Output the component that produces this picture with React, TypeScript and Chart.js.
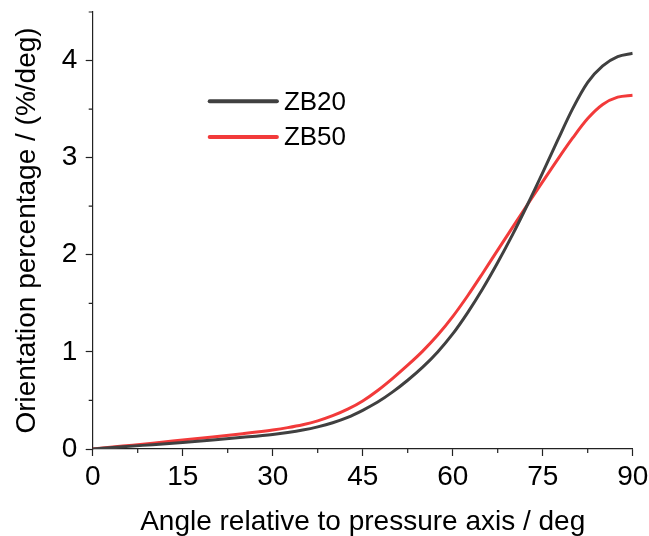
import React, { useEffect, useRef } from "react";
import { Chart, registerables } from "chart.js";

Chart.register(...registerables);

const angles = [0, 5, 10, 15, 20, 25, 30, 32.5, 35, 37.5, 40, 42.5, 45, 47.5, 50, 52.5, 55, 57.5, 60, 62.5, 65, 67.5, 70, 72.5, 75, 77.5, 80, 82.5, 85, 87.5, 90];
const zb20 = [0, 0.022, 0.045, 0.068, 0.093, 0.12, 0.15, 0.17, 0.195, 0.228, 0.27, 0.325, 0.398, 0.483, 0.588, 0.708, 0.843, 1.0, 1.185, 1.405, 1.65, 1.92, 2.21, 2.52, 2.845, 3.18, 3.505, 3.775, 3.945, 4.04, 4.075];
const zb50 = [0, 0.03, 0.06, 0.092, 0.124, 0.158, 0.196, 0.22, 0.25, 0.29, 0.343, 0.41, 0.495, 0.603, 0.728, 0.863, 1.008, 1.173, 1.363, 1.578, 1.81, 2.048, 2.285, 2.52, 2.753, 2.983, 3.203, 3.403, 3.548, 3.623, 3.643];
const seriesNames = ["ZB20", "ZB50"];
const xTicksMajor = [0, 15, 30, 45, 60, 75, 90];
const xMinorTicks = [7.5, 22.5, 37.5, 52.5, 67.5, 82.5];
const yMinorTicks = [0.5, 1.5, 2.5, 3.5, 4.5];
const xTitle = "Angle relative to pressure axis / deg";
const yTitle = "Orientation percentage / (%/deg)";

const FONT = "'Liberation Sans', Arial, sans-serif";
const AXIS_COLOR = "#222";
const colors = ["#404040", "#f23a3a"];

export default function App() {
  const ref = useRef<HTMLCanvasElement | null>(null);

  useEffect(() => {
    document.body.style.margin = "0";
    const canvas = ref.current;
    if (!canvas) return;

    const minorTicksPlugin = {
      id: "minorTicksAndLegend",
      afterDraw(chart: any) {
        const ctx = chart.ctx;
        const xs = chart.scales.x;
        const ys = chart.scales.y;
        const area = chart.chartArea;
        ctx.save();
        ctx.strokeStyle = AXIS_COLOR;
        ctx.lineWidth = 1.2;
        ctx.beginPath();
        xMinorTicks.forEach((v) => {
          const px = xs.getPixelForValue(v);
          ctx.moveTo(px, area.bottom);
          ctx.lineTo(px, area.bottom + 4);
        });
        yMinorTicks.forEach((v) => {
          const py = ys.getPixelForValue(v);
          ctx.moveTo(area.left, py);
          ctx.lineTo(area.left - 4, py);
        });
        ctx.stroke();

        // legend
        const lx0 = xs.getPixelForValue(19.5);
        const lx1 = xs.getPixelForValue(30.7);
        const ly0 = ys.getPixelForValue(3.58);
        const gap = 35.6;
        chart.data.datasets.forEach((ds: any, i: number) => {
          const y = ly0 + i * gap;
          ctx.strokeStyle = ds.borderColor;
          ctx.lineWidth = 4;
          ctx.lineCap = "round";
          ctx.beginPath();
          ctx.moveTo(lx0, y);
          ctx.lineTo(lx1, y);
          ctx.stroke();
          ctx.fillStyle = "#000";
          ctx.font = `26px ${FONT}`;
          ctx.textBaseline = "middle";
          ctx.textAlign = "left";
          ctx.fillText(ds.label, lx1 + 7, y + 1);
        });
        ctx.restore();
      },
    };

    const chart = new Chart(canvas, {
      type: "line",
      data: {
        datasets: [
          {
            label: seriesNames[0],
            data: angles.map((a, i) => ({ x: a, y: zb20[i] })),
            borderColor: colors[0],
            borderWidth: 3,
            pointRadius: 0,
            cubicInterpolationMode: "monotone",
            fill: false,
          },
          {
            label: seriesNames[1],
            data: angles.map((a, i) => ({ x: a, y: zb50[i] })),
            borderColor: colors[1],
            borderWidth: 3,
            pointRadius: 0,
            cubicInterpolationMode: "monotone",
            fill: false,
          },
        ],
      },
      options: {
        animation: false,
        responsive: true,
        maintainAspectRatio: false,
        layout: { padding: { top: 12, right: 16.3, left: 0, bottom: 0 } },
        plugins: {
          legend: { display: false },
          tooltip: { enabled: false },
        },
        scales: {
          x: {
            type: "linear",
            min: 0,
            max: 90,
            afterFit: (s: any) => {
              s.height = 87;
              s.paddingLeft = 0;
              s.paddingRight = 0;
            },
            afterBuildTicks: (s: any) => {
              s.ticks = xTicksMajor.map((v) => ({ value: v }));
            },
            grid: {
              drawOnChartArea: false,
              drawTicks: true,
              tickLength: 7,
              tickColor: AXIS_COLOR,
              tickWidth: 1.2,
            },
            border: { display: true, color: AXIS_COLOR, width: 1.2 },
            ticks: {
              padding: 4,
              maxRotation: 0,
              autoSkip: false,
              color: "#000",
              font: { family: FONT, size: 28 },
            },
            title: {
              display: true,
              text: xTitle,
              color: "#000",
              font: { family: FONT, size: 28, lineHeight: 1 },
              padding: { top: 0, bottom: 0 },
            },
          },
          y: {
            type: "linear",
            min: 0,
            max: 4.5,
            afterFit: (s: any) => {
              s.width = 92.7;
              s.paddingTop = 0;
              s.paddingBottom = 0;
            },
            afterBuildTicks: (s: any) => {
              s.ticks = s.ticks.filter((t: any) => Number.isInteger(t.value));
            },
            grid: {
              drawOnChartArea: false,
              drawTicks: true,
              tickLength: 7,
              tickColor: AXIS_COLOR,
              tickWidth: 1.2,
            },
            border: { display: true, color: AXIS_COLOR, width: 1.2 },
            ticks: {
              stepSize: 1,
              padding: 8.5,
              color: "#000",
              font: { family: FONT, size: 28 },
            },
            title: {
              display: true,
              text: yTitle,
              color: "#000",
              font: { family: FONT, size: 28, lineHeight: 1 },
              padding: { top: 13, bottom: 0 },
            },
          },
        },
      },
      plugins: [minorTicksPlugin],
    } as any);

    return () => {
      chart.destroy();
    };
  }, []);

  return (
    <div style={{ position: "relative", width: "649px", height: "536px" }}>
      <canvas ref={ref} />
    </div>
  );
}
